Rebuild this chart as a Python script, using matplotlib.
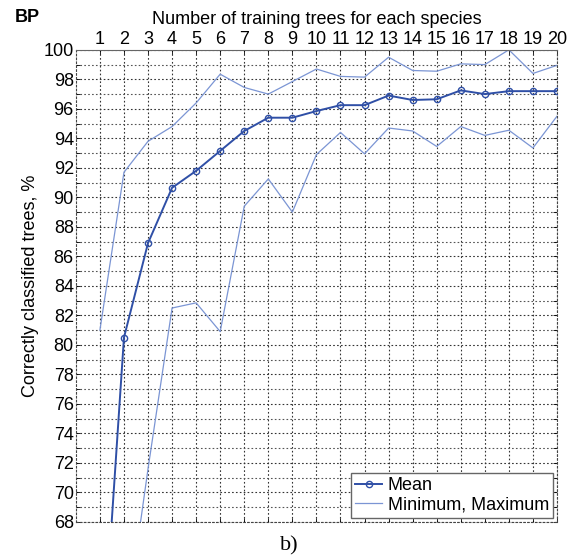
import matplotlib.pyplot as plt
from matplotlib.ticker import MultipleLocator

# Number of training trees for each species
trees = list(range(1, 21))

# Correctly classified trees, %
mean_acc = [56.0, 80.5, 86.9, 90.65, 91.8, 93.15, 94.5, 95.4, 95.4, 95.85,
            96.25, 96.25, 96.9, 96.6, 96.65, 97.25, 97.0, 97.2, 97.2, 97.2]
min_acc = [40.0, 60.0, 71.6, 82.5, 82.85, 80.9, 89.4, 91.25, 89.0, 92.9,
           94.4, 92.95, 94.7, 94.5, 93.45, 94.8, 94.2, 94.55, 93.35, 95.5]
max_acc = [81.0, 91.7, 93.8, 94.8, 96.4, 98.35, 97.45, 97.0, 97.85, 98.7,
           98.2, 98.15, 99.5, 98.6, 98.55, 99.05, 99.0, 100.0, 98.4, 98.95]

plt.rcParams['font.family'] = ['Liberation Sans', 'DejaVu Sans']

fig = plt.figure(figsize=(5.79, 5.6), dpi=100)
ax = fig.add_axes([0.131, 0.068, 0.831, 0.843])

dark = '#2f4fa6'
light = '#7b95d4'

ax.plot(trees, mean_acc, color=dark, lw=1.4, marker='o', ms=4.5,
        mfc='none', mew=1.0, label='Mean', zorder=3)
ax.plot(trees, min_acc, color=light, lw=0.9, label='Minimum, Maximum', zorder=2)
ax.plot(trees, max_acc, color=light, lw=0.9, zorder=2)

ax.set_xlim(0, 20)
ax.set_ylim(68, 100)
ax.yaxis.set_major_locator(MultipleLocator(2))
ax.yaxis.set_minor_locator(MultipleLocator(1))
ax.set_xticks(trees)

ax.xaxis.tick_top()
ax.xaxis.set_label_position('top')
ax.tick_params(axis='both', which='both', direction='in', labelsize=13,
               length=3, width=0.6, pad=1.5)
ax.tick_params(axis='y', which='both', right=True)
ax.tick_params(axis='x', bottom=True)

ax.grid(True, which='major', ls=(0, (1.5, 2)), color='#333333', lw=0.8)
ax.grid(True, which='minor', axis='y', ls=(0, (1.5, 2)), color='#555555', lw=0.8)
ax.set_axisbelow(True)

for side in ['left', 'right', 'bottom']:
    ax.spines[side].set_linestyle((0, (1.5, 2)))
    ax.spines[side].set_color('#444444')
    ax.spines[side].set_linewidth(0.8)
ax.spines['top'].set_color('#666666')
ax.spines['top'].set_linewidth(0.8)

ax.set_xlabel('Number of training trees for each species', fontsize=13, labelpad=5)
ax.set_ylabel('Correctly classified trees, %', fontsize=13, labelpad=3)

leg = ax.legend(loc='lower right', fontsize=13, fancybox=False, framealpha=1,
                edgecolor='#666666', borderpad=0.25, labelspacing=0.15,
                handlelength=1.5, handletextpad=0.3, borderaxespad=0.2)
leg.get_frame().set_linewidth(1.0)

fig.text(0.025, 0.968, 'BP', fontsize=13, fontweight='bold', va='center')
fig.text(0.5, 0.025, 'b)', fontsize=16, family=['Liberation Serif', 'DejaVu Serif'],
         ha='center', va='center')

fig.savefig('out.png', dpi=100)
